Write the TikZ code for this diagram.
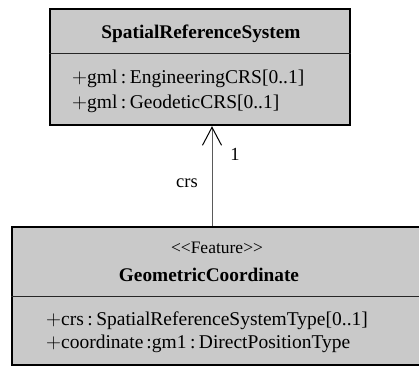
\documentclass[tikz,border=0pt]{standalone}
\usepackage{fontspec}
\setmainfont{Liberation Serif}
\usetikzlibrary{arrows.meta}
\definecolor{boxgray}{RGB}{201,201,201}
\definecolor{linegray}{RGB}{90,90,90}
\newcommand{\sep}{\kern3.5pt:\kern3.5pt}
\begin{document}
\begin{tikzpicture}[x=1pt,y=-1pt,
  umlbox/.style={draw=black, line width=2.2pt, fill=boxgray, inner sep=0pt, anchor=north west},
  divider/.style={draw=black!85, line width=0.9pt},
  title/.style={inner sep=0pt, anchor=base, font=\fontsize{19.3}{21}\selectfont\bfseries},
  stereo/.style={inner sep=0pt, anchor=base, font=\fontsize{17.5}{19}\selectfont},
  attr/.style={inner sep=0pt, anchor=base west, font=\fontsize{19.5}{21}\selectfont},
  lbl/.style={inner sep=0pt, anchor=base, font=\fontsize{18.5}{20}\selectfont},
  assoc/.style={draw=linegray, line width=1pt, -{Straight Barb[length=18pt,width=19pt,line width=1pt,black]}}]
\useasboundingbox (0,0) rectangle (419,367);

% class boxes
\node[umlbox, minimum width=300pt, minimum height=116pt] (srs) at (49,8) {};
\node[umlbox, minimum width=430pt, minimum height=138pt] (gc) at (11,226) {};

% compartment dividers
\draw[divider] (srs.west |- 0,53) coordinate (sdl) -- (srs.east |- sdl) coordinate (sdr);
\draw[divider] (gc.west |- 0,296) coordinate (gdl) -- (gc.east |- gdl) coordinate (gdr);

% SpatialReferenceSystem
\node[title] (srsname) at (201,38) {SpatialReferenceSystem};
\node[attr] (srsa1) at (72,83) {$+$gml\sep EngineeringCRS[0..1]};
\node[attr] (srsa2) at (72,108) {$+$gml\sep GeodeticCRS[0..1]};

% GeometricCoordinate
\node[stereo] (gcst) at (217,253) {<{}<Feature>{}>};
\node[title] (gcname) at (209,281) {GeometricCoordinate};
\node[attr] (gca1) at (46,325) {$+$crs\sep SpatialReferenceSystemType[0..1]};
\node[attr] (gca2) at (46,348) {$+$coordinate\kern3pt:gm1\sep DirectPositionType};

% association
\coordinate (ax) at (212,0);
\draw[assoc] (gc.north -| ax) -- (srs.south -| ax);
\node[lbl] (mult) at (235,160) {1};
\node[lbl] (role) at (187,187) {crs};
\end{tikzpicture}
\end{document}
